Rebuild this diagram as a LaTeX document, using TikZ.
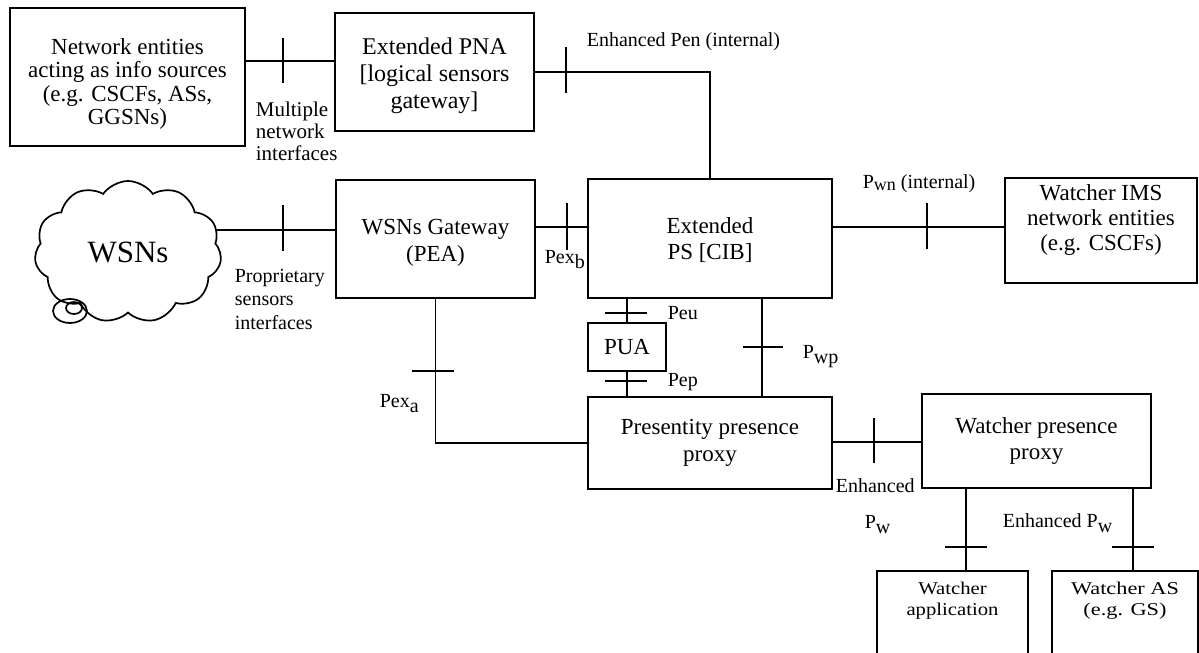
\documentclass[tikz,border=0pt]{standalone}
\usepackage{fontspec}
\setmainfont{Liberation Serif}
\usetikzlibrary{shapes.symbols,calc}

% font sizes for boxes and interface labels
\newcommand\lblfont{\fontsize{20}{22}\selectfont}
\newcommand\boxfont{\fontsize{23}{26.5}\selectfont}
% lowered index letters, as in Pex_a or P_w
\newcommand\dnsub[2][5pt]{\raisebox{-#1}{#2}}
% centred lines, widened horizontally
\newcommand\wide[2]{\scalebox{#1}[1]{\begin{tabular}{@{}c@{}}#2\end{tabular}}}
% centred lines moved up or down inside their box
\newcommand\shifted[2]{\raisebox{#1}[0pt][0pt]{\begin{tabular}{@{}c@{}}#2\end{tabular}}}

\begin{document}
\begin{tikzpicture}[x=1pt,y=-1pt,line width=1.7pt,
  box/.style={draw,rectangle,inner sep=0pt,align=center,font=\boxfont},
  lab/.style={inner sep=0pt,font=\lblfont,align=left},
  tick/.style={line width=1.7pt}]
\clip (0,0) rectangle (1199,653);

% ---- entities ----
\node[box,minimum width=235,minimum height=138,font=\fontsize{23}{23.3}\selectfont] (ne) at (127.5,77)
  {\shifted{-14pt}{Network entities\\acting as info sources\\(e.g. CSCFs, ASs,\\GGSNs)}};
\node[box,minimum width=199,minimum height=118,font=\fontsize{24}{27}\selectfont] (pna) at (434.5,72)
  {\shifted{-10pt}{Extended PNA\\{[}logical sensors\\gateway]}};
\node[cloud,draw,cloud puffs=11,cloud puff arc=110,aspect=1.3,minimum width=187,minimum height=142,
  inner sep=0pt,font=\fontsize{31}{34}\selectfont] (wsn) at (128,252) {WSNs};
\node[box,minimum width=199,minimum height=118] (gw) at (435.5,239) {\shifted{-10pt}{WSNs Gateway\\(PEA)}};
\node[box,minimum width=244,minimum height=119] (ps) at (710,238.5) {\shifted{-9pt}{Extended\\PS [CIB]}};
\node[box,minimum width=192,minimum height=105,font=\fontsize{23}{25}\selectfont] (wims) at (1101,230.5)
  {\shifted{4pt}{Watcher IMS\\network entities\\(e.g. CSCFs)}};
\node[box,minimum width=78,minimum height=48] (pua) at (627,347) {PUA};
\node[box,minimum width=244,minimum height=92] (pres) at (710,443) {Presentity presence\\proxy};
\node[box,minimum width=229,minimum height=94] (wpp) at (1036.5,441) {Watcher presence\\proxy};
\node[box,minimum width=151,minimum height=100,anchor=north] (wapp) at (952.5,570) {};
\node[inner sep=0pt,font=\fontsize{18}{21}\selectfont] (wappt) at (952.5,601)
  {\wide{1.15}{Watcher\\application}};
\node[box,minimum width=146,minimum height=100,anchor=north] (was) at (1125,570) {};
\node[inner sep=0pt,font=\fontsize{18}{21}\selectfont] (wast) at (1125,601)
  {\wide{1.24}{Watcher AS\\(e.g. GS)}};

% the small curl under the cloud
\draw (70,311) ellipse [x radius=17,y radius=12];
\draw (74,308) ellipse [x radius=8,y radius=6];

% ---- levels and columns of the connectors ----
\coordinate (yA) at (0,61);
\coordinate (yB) at (0,72);
\coordinate (yC) at (0,227);
\coordinate (yF) at (0,442);
\coordinate (xE) at (762,0);
\coordinate (xG) at (966,0);
\coordinate (xH) at (1133,0);

% ---- connectors ----
\draw (ne.east |- yA) -- (pna.west |- yA);
\draw[tick] (283,38) -- (283,83);

\draw (pna.east |- yB) -| (ps.north);
\draw[tick] (566,47) -- (566,93);

\draw (wsn.14) -- (wsn.14 -| gw.west);
\draw[tick] (283,205) -- (283,251);

\draw (gw.east |- yC) -- (ps.west |- yC);
\draw[tick] (567,203) -- (567,250);

\draw (ps.east |- yC) -- (wims.west |- yC);
\draw[tick] (927,203) -- (927,249);

\draw (pua.north |- ps.south) -- (pua.north);
\draw[tick] (605,313) -- (647,313);

\draw (pua.south) -- (pua.south |- pres.north);
\draw[tick] (605,381) -- (647,381);

\draw (gw.south) |- (pres.west);
\draw[tick] (412,371) -- (454,371);

\draw (ps.south -| xE) -- (pres.north -| xE);
\draw[tick] (743,347) -- (783,347);

\draw (pres.east |- yF) -- (wpp.west |- yF);
\draw[tick] (874,418) -- (874,463);

\draw (wpp.south -| xG) -- (wapp.north -| xG);
\draw[tick] (945,547) -- (987,547);

\draw (wpp.south -| xH) -- (was.north -| xH);
\draw[tick] (1112,547) -- (1154,547);

% ---- interface labels ----
\node[lab,anchor=west,font=\fontsize{21}{22}\selectfont] (lmul) at (255,131) {Multiple\\network\\interfaces};
\node[lab,anchor=west] (lpen) at (586,42) {Enhanced Pen (internal)};
\node[lab,anchor=west,font=\fontsize{20}{23.5}\selectfont] (lprop) at (234,299) {Proprietary\\sensors\\interfaces};
\node[lab,anchor=west] (lpexb) at (544,260) {Pex\dnsub{b}};
\node[lab,anchor=west] (lpeu) at (667,313) {Peu};
\node[lab,anchor=west] (lpep) at (667,382) {Pep};
\node[lab,anchor=west] (lpexa) at (379,404) {Pex\dnsub{a}};
\node[lab,anchor=west] (lpwp) at (802,357) {P\dnsub{wp}};
\node[lab,anchor=west] (lpwn) at (862,184) {P\dnsub[2pt]{\fontsize{18}{20}\selectfont wn} (internal)};
\node[lab,anchor=west] (lenh) at (835,486) {Enhanced};
\node[lab,anchor=west] (lpw) at (864,525) {P\dnsub{w}};
\node[lab,anchor=west] (lepw) at (1002,523) {Enhanced P\dnsub{w}};
\end{tikzpicture}
\end{document}
